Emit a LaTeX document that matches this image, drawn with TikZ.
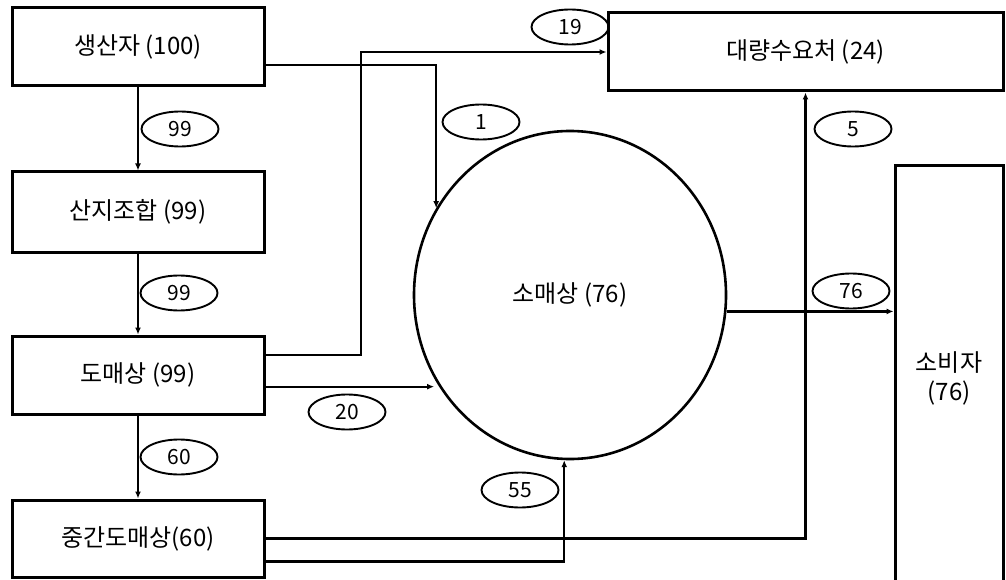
\documentclass[tikz,border=0pt]{standalone}
\usepackage{fontspec}
\setmainfont{Noto Sans CJK KR}
\usepackage{tikz}
\usetikzlibrary{calc,arrows.meta,positioning,shapes.geometric}
\tikzset{
  ar/.style={-{Latex[length=7pt,width=6pt]},line width=2.3pt},
  box/.style={draw,line width=3pt,minimum width=252pt,minimum height=78pt,align=center,font=\fontsize{24}{29}\selectfont},
  tag/.style={draw,ellipse,line width=1.9pt,minimum width=77pt,minimum height=35pt,inner sep=0pt,font=\fontsize{21}{24}\selectfont}
}

\begin{document}
\begin{tikzpicture}[x=1pt,y=-1pt]
\useasboundingbox (0,0) rectangle (1006,580);
% boxes
\node[box] (prod) at (138,47) {생산자 (100)};
\node[box,minimum height=80pt] (coop) at (138,212) {산지조합 (99)};
\node[box] (whole) at (138,375) {도매상 (99)};
\node[box,minimum height=77pt] (mid) at (138,538.5) {중간도매상(60)};
\node[box,minimum width=395pt] (big) at (805.5,52) {대량수요처 (24)};
\node[box,minimum width=108pt,minimum height=424pt] (cons) at (949,378) {소비자\\(76)};
\node[draw,ellipse,line width=2.6pt,minimum width=312pt,minimum height=328pt,font=\fontsize{24}{29}\selectfont] (ret) at (570,295) {소매상 (76)};
\coordinate (k1) at (361,0);
% flows
\draw[ar] (prod) -- (coop);
\draw[ar] (coop) -- (whole);
\draw[ar] (whole) -- (mid);
\draw[ar] ($(prod.east)+(0,18)$) -| (ret.147);
\draw[ar] ($(whole.east)+(0,-20)$) -| (k1 |- big.west) -- (big.west);
\draw[ar,shorten >=5pt] (whole.east |- ret.215) -- (ret.215);
\draw[ar] (ret.354) -- (ret.354 -| cons.west);
\draw[ar] (mid.east) -| (big.south);
\draw[ar] ($(mid.east)+(0,23)$) -| (ret.268);
% amounts
\node[tag] (n99a) at (180,129) {99};
\node[tag] (n99b) at (179,293) {99};
\node[tag] (n60) at (179,457) {60};
\node[tag] (n1) at (481,122) {1};
\node[tag] (n19) at (570,27) {19};
\node[tag] (n5) at (853,129) {5};
\node[tag] (n76) at (851,291) {76};
\node[tag] (n20) at (347,412) {20};
\node[tag] (n55) at (520,490) {55};
\end{tikzpicture}
\end{document}
